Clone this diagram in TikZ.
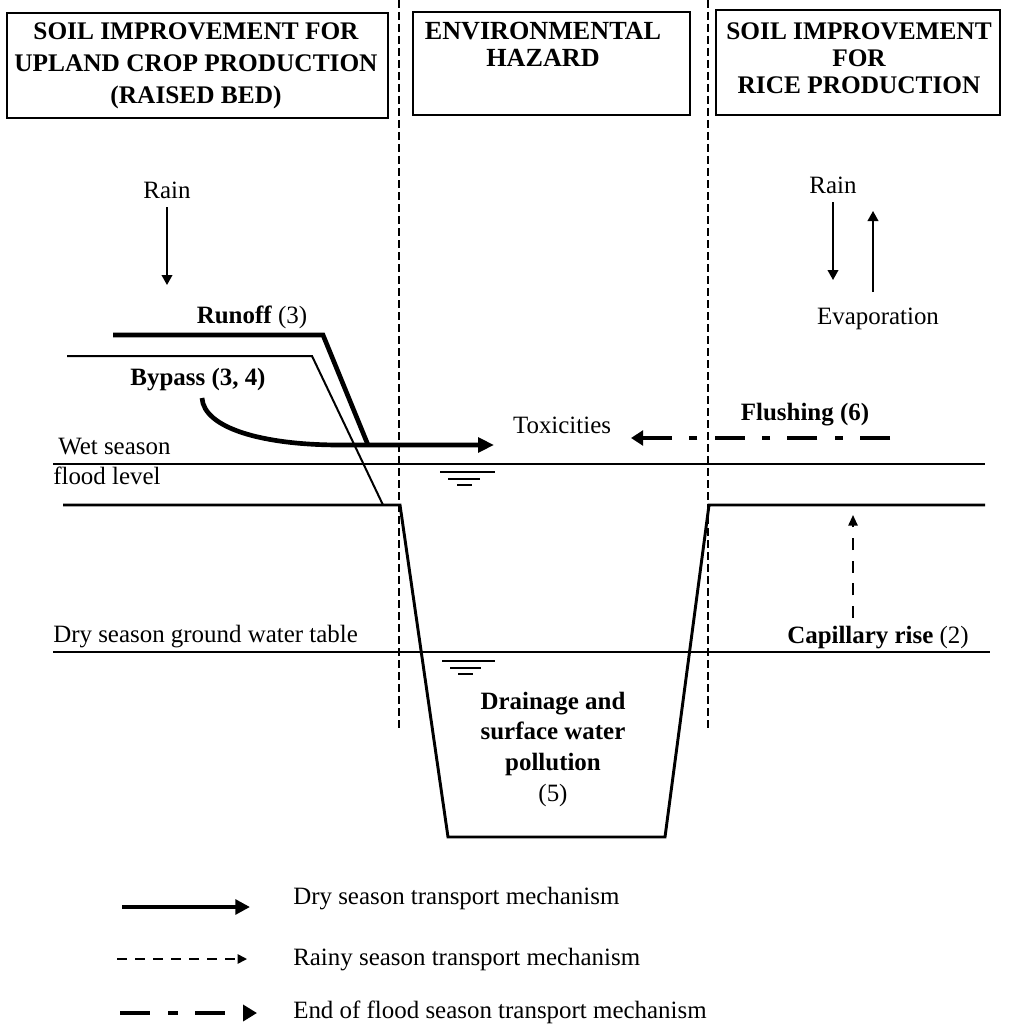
\documentclass[tikz,border=0pt]{standalone}
\usepackage{fontspec}
\setmainfont{Liberation Serif}
\usetikzlibrary{arrows.meta}
\begin{document}
\begin{tikzpicture}[x=0.75pt,y=-0.75pt,
  hdr/.style={font=\fontsize{19}{24}\selectfont\bfseries, align=center, inner sep=0},
  hbox/.style={draw, line width=1.5pt, inner sep=0, minimum width=#1},
  lbl/.style={font=\fontsize{18.7}{23}\selectfont, inner sep=0},
  sepline/.style={line width=1.1pt, dash pattern=on 6pt off 3pt},
  level/.style={line width=0.8pt},
  ground/.style={line width=2.2pt, line join=miter},
  bed/.style={line width=1.5pt, line join=miter},
  runoffline/.style={line width=3.5pt, line join=miter},
  dry/.style={line width=3.5pt, -{Triangle[length=12pt,width=11pt]}},
  thinarrow/.style={line width=1.3pt, -{Triangle[length=7.5pt,width=8pt]}},
  rainy/.style={line width=1.3pt, dash pattern=on 9pt off 8pt, -{Triangle[length=8pt,width=7pt]}},
  flush/.style={line width=3.5pt, dash pattern=on 22.5pt off 13pt on 6pt off 13pt, -{Triangle[length=9pt,width=11pt]}},
  wsym/.style={line width=1pt},
]
\useasboundingbox (0,0) rectangle (1008,1027);

% header boxes
\node[hbox=285.75pt, minimum height=78.75pt] (b1) at (197.5,65.5) {};
\node[hbox=207.75pt, minimum height=77.25pt] (b2) at (551.5,63.5) {};
\node[hbox=213pt, minimum height=78.75pt] (b3) at (858,62.5) {};
\node[hdr] (t1) at (196,66) {SOIL IMPROVEMENT FOR\\UPLAND CROP PRODUCTION\\(RAISED BED)};
\node[hdr, font=\fontsize{19.6}{20.25}\selectfont\bfseries] (t2) at (543,44.5) {ENVIRONMENTAL\\HAZARD};
\node[hdr, font=\fontsize{19}{20.25}\selectfont\bfseries] (t3) at (859,58) {SOIL IMPROVEMENT\\FOR\\RICE PRODUCTION};

% separators
\coordinate (s1a) at (399,0); \coordinate (s1b) at (399,728);
\coordinate (s2a) at (708,0); \coordinate (s2b) at (708,728);
\draw[sepline] (s1a) -- (s1b);
\draw[sepline] (s2a) -- (s2b);

% levels
\coordinate (fl1) at (53,464); \coordinate (fl2) at (985,464);
\coordinate (gw1) at (53,652); \coordinate (gw2) at (990,652);
\draw[level] (fl1) -- (fl2);
\draw[level] (gw1) -- (gw2);

% water symbols
\draw[wsym] (440,472) -- (495,472) (448,479) -- (480,479) (457,485) -- (472,485);
\draw[wsym] (442,661) -- (495,661) (450,668) -- (481,668) (458,674) -- (473,674);

% ground profile
\draw[ground] (63,505) -- (400,505) -- (448,837) -- (665,837) -- (709,505) -- (985,505);
% raised bed surface
\draw[bed] (67,356) -- (312,356) -- (383,505);

% left: rain
\node[lbl] (rainL) at (167,190) {Rain};
\coordinate (rainLend) at (167,285);
\draw[thinarrow] (167,207) -- (rainLend);

% runoff
\node[lbl] (runoff) at (252,317) {\textbf{Runoff} (3)};
\coordinate (r1) at (113,335); \coordinate (r2) at (323,335); \coordinate (r3) at (368,445);
\draw[runoffline] (r1) -- (r2) -- (r3);

% bypass
\node[lbl, font=\fontsize{18.7}{23}\selectfont\bfseries] (bypass) at (198,380) {Bypass (3, 4)};
\node[lbl] (tox) at (562,425) {Toxicities};
\coordinate (bp0) at (202,398); \coordinate (bp1) at (340,445); \coordinate (bptip) at (494,445);
\draw[dry] (bp0) .. controls (204,428) and (262,445) .. (bp1) -- (bptip);

% wet season
\node[lbl, anchor=west] (wet1) at (58,447) {Wet season};
\node[lbl, anchor=west] (wet2) at (53,476) {flood level};

% flushing
\node[lbl, font=\fontsize{18.7}{23}\selectfont\bfseries] (flushing) at (805,415) {Flushing (6)};
\coordinate (fs) at (890,438); \coordinate (ft) at (631,438);
\draw[flush] (fs) -- (ft);

% right: rain and evaporation
\node[lbl] (rainR) at (833,185) {Rain};
\coordinate (rainRend) at (833,280);
\draw[thinarrow] (833,202) -- (rainRend);
\node[lbl] (evap) at (878,319) {Evaporation};
\coordinate (evtop) at (873,211);
\draw[thinarrow] (873,292) -- (evtop);

% capillary rise
\node[lbl] (cap) at (878,638) {\textbf{Capillary rise} (2)};
\coordinate (capb) at (853,618); \coordinate (capt) at (853,515);
\draw[rainy] (capb) -- (capt);

% dry season ground water table
\node[lbl, anchor=west] (dsgw) at (53,637) {Dry season ground water table};

% drainage
\node[lbl, align=center, font=\fontsize{18.7}{23}\selectfont] (drain) at (553,749)
  {\textbf{Drainage and}\\\textbf{surface water}\\\textbf{pollution}\\(5)};

% legend
\coordinate (l1a) at (122,907); \coordinate (l1b) at (250,907);
\coordinate (l2a) at (117,959); \coordinate (l2b) at (247,959);
\coordinate (l3a) at (120,1013); \coordinate (l3b) at (257,1013);
\draw[line width=3pt, -{Triangle[length=11pt,width=11pt]}] (l1a) -- (l1b);
\draw[line width=1.2pt, dash pattern=on 7.5pt off 6pt, -{Triangle[length=7pt,width=7pt]}] (l2a) -- (l2b);
\draw[line width=3pt, dash pattern=on 22.5pt off 13.5pt on 7.5pt off 12.75pt, -{Triangle[length=10.5pt,width=12pt]}] (l3a) -- (l3b);
\node[lbl, anchor=west] (leg1) at (293,899) {Dry season transport mechanism};
\node[lbl, anchor=west] (leg2) at (293,960) {Rainy season transport mechanism};
\node[lbl, anchor=west] (leg3) at (293,1012) {End of flood season transport mechanism};
\end{tikzpicture}
\end{document}
